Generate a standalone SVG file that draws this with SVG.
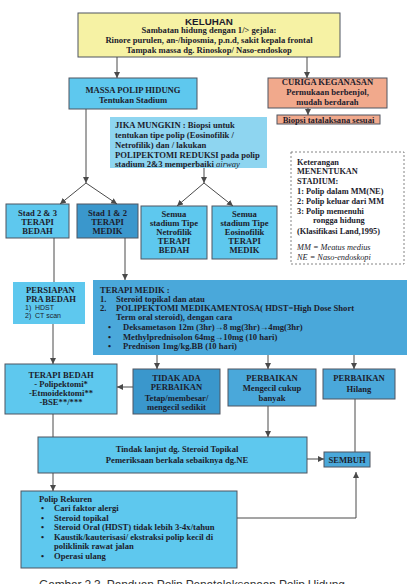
<svg xmlns="http://www.w3.org/2000/svg" width="416" height="584" viewBox="0 0 416 584">
<defs>
<marker id="ah" markerWidth="6" markerHeight="6" refX="6" refY="3" orient="auto" markerUnits="userSpaceOnUse">
<path d="M0,0 L6,3 L0,6 z" fill="#4a4a4a"/>
</marker>
</defs>
<style>
.box{stroke:#4f5560;stroke-width:1}
.yel{fill:#f6f2a4}
.sal{fill:#f1a98c}
.sky{fill:#5ec8ee}
.lt{fill:#8ed5f0}
.med{fill:#4aa8da}
.dk{fill:#3a97cc}
.t{font-family:"Liberation Serif",serif;font-weight:bold;font-size:8.6px;fill:#1c1c2c}
.k{font-size:8.3px}
.c{text-anchor:middle}
.s{font-family:"Liberation Sans",sans-serif;font-size:7px;fill:#1c1c2c}
.i{font-family:"Liberation Serif",serif;font-style:italic;font-size:8.3px;fill:#1c1c2c}
.ln{stroke:#4a4a4a;stroke-width:1;fill:none}
.ar{marker-end:url(#ah)}
</style>
<rect width="416" height="584" fill="#ffffff"/>

<g id="keluhan">
<rect class="box yel" x="78" y="13" width="262" height="44"/>
<text x="209" y="24.5" class="c" style="font-family:'Liberation Sans',sans-serif;font-weight:bold;font-size:9.8px;fill:#1c1c2c">KELUHAN</text>
<text x="209" y="33" class="t c">Sambatan hidung dengan 1/&gt; gejala:</text>
<text x="209" y="43" class="t c">Rinore purulen,  an-/hiposmia, p.n.d, sakit kepala frontal</text>
<text x="209" y="52.5" class="t c">Tampak massa dg. Rinoskop/ Naso-endoskop</text>
</g>

<g id="massa">
<rect class="box sky" x="69" y="78" width="128" height="31"/>
<text x="133" y="93" class="t c">MASSA POLIP HIDUNG</text>
<text x="133" y="103" class="t c">Tentukan Stadium</text>
</g>

<g id="curiga">
<rect class="box sal" x="268" y="78" width="119" height="30"/>
<text x="327.5" y="84.5" class="t c">CURIGA KEGANASAN</text>
<text x="327.5" y="95" class="t c">Permukaan berbenjol,</text>
<text x="327.5" y="104.5" class="t c">mudah berdarah</text>
</g>

<g id="biopsi">
<rect class="box sal" x="277" y="115" width="103" height="9"/>
<text x="328.5" y="122.5" class="t c">Biopsi tatalaksana sesuai</text>
</g>

<g id="jika">
<rect class="box lt" x="110" y="117" width="157" height="51" style="stroke:none"/>
<text x="115" y="127.5" class="t">JIKA MUNGKIN : Biopsi untuk</text>
<text x="115" y="137.5" class="t">tentukan tipe polip (Eosinofilik /</text>
<text x="115" y="147.5" class="t">Netrofilik)  dan / lakukan</text>
<text x="115" y="157.5" class="t">POLIPEKTOMI REDUKSI pada polip</text>
<text x="115" y="166.5" class="t">stadium 2&amp;3 memperbaiki <tspan style="font-style:italic;font-weight:normal">airway</tspan></text>
</g>

<g id="keterangan">
<rect x="291" y="152" width="113" height="112" fill="#ffffff" stroke="#777" stroke-width="0.9" stroke-dasharray="2,2"/>
<text x="297" y="164.5" class="t k">Keterangan</text>
<text x="297" y="174" class="t k">MENENTUKAN</text>
<text x="297" y="183.5" class="t k">STADIUM:</text>
<text x="297" y="194" class="t k">1: Polip dalam MM(NE)</text>
<text x="297" y="204" class="t k">2: Polip keluar dari MM</text>
<text x="297" y="213.5" class="t k">3: Polip memenuhi</text>
<text x="313" y="223" class="t k">rongga hidung</text>
<text x="297" y="234" class="t k">(Klasifikasi Land,1995)</text>
<text x="297" y="250" class="i">MM = Meatus medius</text>
<text x="297" y="260" class="i">NE  = Naso-endoskopi</text>
</g>

<g id="stad23">
<rect class="box sky" x="6" y="204" width="63" height="34"/>
<text x="37.5" y="216" class="t c">Stad 2 &amp; 3</text>
<text x="37.5" y="225" class="t c">TERAPI</text>
<text x="37.5" y="234" class="t c">BEDAH</text>
</g>

<g id="stad12">
<rect class="box dk" x="77" y="204" width="61" height="34"/>
<text x="107.5" y="216" class="t c">Stad 1 &amp; 2</text>
<text x="107.5" y="225" class="t c">TERAPI</text>
<text x="107.5" y="234" class="t c">MEDIK</text>
</g>

<g id="semua-netrofilik">
<rect class="box sky" x="141" y="206" width="66" height="53"/>
<text x="174" y="216.5" class="t c">Semua</text>
<text x="174" y="225.5" class="t c">stadium Tipe</text>
<text x="174" y="234.5" class="t c">Netrofilik</text>
<text x="174" y="243.5" class="t c">TERAPI</text>
<text x="174" y="252.5" class="t c">BEDAH</text>
</g>

<g id="semua-eosinofilik">
<rect class="box sky" x="212" y="206" width="65" height="53"/>
<text x="244.5" y="216.5" class="t c">Semua</text>
<text x="244.5" y="225.5" class="t c">stadium Tipe</text>
<text x="244.5" y="234.5" class="t c">Eosinofilik</text>
<text x="244.5" y="243.5" class="t c">TERAPI</text>
<text x="244.5" y="252.5" class="t c">MEDIK</text>
</g>

<g id="persiapan">
<rect class="box sky" x="13" y="282" width="72" height="42" style="stroke:none"/>
<text x="26" y="293" class="t">PERSIAPAN</text>
<text x="26" y="302" class="t">PRA BEDAH</text>
<text x="25" y="310" class="s">1)</text><text x="35" y="310" class="s">HDST</text>
<text x="25" y="317.5" class="s">2)</text><text x="35" y="317.5" class="s">CT scan</text>
</g>

<g id="terapi-medik">
<rect class="box med" x="93" y="280" width="314" height="75" style="stroke:none"/>
<text x="100" y="293" class="t">TERAPI MEDIK :</text>
<text x="100" y="302" class="t">1.</text><text x="116" y="302" class="t">Steroid topikal dan atau</text>
<text x="100" y="311" class="t">2.</text><text x="116" y="311" class="t">POLIPEKTOMI MEDIKAMENTOSA( HDST=High Dose Short</text>
<text x="116" y="320" class="t">Term oral steroid), dengan cara</text>
<text x="108" y="330" class="t">•</text><text x="123" y="330" class="t">Deksametason 12m (3hr)→8 mg(3hr)→4mg(3hr)</text>
<text x="108" y="340" class="t">•</text><text x="123" y="340" class="t">Methylprednisolon 64mg→10mg (10 hari)</text>
<text x="108" y="349" class="t">•</text><text x="123" y="349" class="t">Prednison 1mg/kg.BB (10 hari)</text>
</g>

<g id="terapi-bedah">
<rect class="box sky" x="5" y="364" width="112" height="50"/>
<text x="61" y="378" class="t c">TERAPI BEDAH</text>
<text x="61" y="387" class="t c">- Polipektomi*</text>
<text x="61" y="396" class="t c">-Etmoidektomi**</text>
<text x="61" y="405" class="t c">-BSE**/***</text>
</g>

<g id="tidak-ada">
<rect class="box dk" x="133" y="369" width="87" height="45"/>
<text x="176.5" y="381" class="t c">TIDAK ADA</text>
<text x="176.5" y="390" class="t c">PERBAIKAN</text>
<text x="176.5" y="401" class="t c">Tetap/membesar/</text>
<text x="176.5" y="410" class="t c">mengecil sedikit</text>
</g>

<g id="perbaikan-mengecil">
<rect class="box med" x="228" y="369" width="88" height="37"/>
<text x="272" y="381" class="t c">PERBAIKAN</text>
<text x="272" y="391" class="t c">Mengecil cukup</text>
<text x="272" y="401" class="t c">banyak</text>
</g>

<g id="perbaikan-hilang">
<rect class="box med" x="323" y="369" width="72" height="30"/>
<text x="359" y="381" class="t c">PERBAIKAN</text>
<text x="359" y="392" class="t c">Hilang</text>
</g>

<g id="tindak-lanjut">
<rect class="box sky" x="38" y="437" width="269" height="36"/>
<text x="177" y="452" class="t c">Tindak lanjut dg. Steroid Topikal</text>
<text x="177" y="463" class="t c">Pemeriksaan berkala sebaiknya dg.NE</text>
</g>

<g id="sembuh">
<rect class="box med" x="324" y="452" width="46" height="15"/>
<text x="347" y="463" class="t c">SEMBUH</text>
</g>

<g id="polip-rekuren">
<rect class="box sky" x="21" y="491" width="216" height="77"/>
<text x="39" y="502" class="t">Polip Rekuren</text>
<text x="41" y="511" class="t">•</text><text x="54" y="511" class="t">Cari faktor alergi</text>
<text x="41" y="521" class="t">•</text><text x="54" y="521" class="t">Steroid topikal</text>
<text x="41" y="530" class="t">•</text><text x="54" y="530" class="t">Steroid Oral (HDST) tidak lebih 3-4x/tahun</text>
<text x="41" y="540" class="t">•</text><text x="54" y="540" class="t">Kaustik/kauterisasi/ ekstraksi  polip kecil di</text>
<text x="54" y="549" class="t">poliklinik rawat jalan</text>
<text x="41" y="559" class="t">•</text><text x="54" y="559" class="t">Operasi ulang</text>
</g>

<g id="connectors">
<line class="ln ar" x1="117" y1="57" x2="117" y2="78"/>
<line class="ln ar" x1="307" y1="57" x2="307" y2="78"/>
<line class="ln ar" x1="308" y1="108" x2="308" y2="115"/>
<line class="ln ar" x1="86" y1="109" x2="86" y2="183"/>
<line class="ln ar" x1="86" y1="183" x2="60" y2="204"/>
<line class="ln ar" x1="86" y1="183" x2="117" y2="204"/>
<line class="ln ar" x1="204" y1="168" x2="204" y2="183"/>
<line class="ln ar" x1="204" y1="183" x2="177" y2="206"/>
<line class="ln ar" x1="204" y1="183" x2="233" y2="206"/>
<line class="ln" x1="54" y1="238" x2="54" y2="282"/>
<line class="ln ar" x1="125" y1="238" x2="125" y2="280"/>
<line class="ln ar" x1="53" y1="324" x2="53" y2="364"/>
<line class="ln ar" x1="157" y1="355" x2="157" y2="369"/>
<line class="ln ar" x1="268" y1="355" x2="268" y2="369"/>
<line class="ln ar" x1="354" y1="355" x2="354" y2="369"/>
<line class="ln ar" x1="133" y1="387" x2="117" y2="387"/>
<line class="ln" x1="53" y1="414" x2="53" y2="437"/>
<line class="ln ar" x1="268" y1="406" x2="268" y2="437"/>
<line class="ln" x1="355" y1="399" x2="355" y2="452"/>
<line class="ln ar" x1="307" y1="459" x2="324" y2="459"/>
<line class="ln ar" x1="53" y1="473" x2="53" y2="491"/>
<polyline class="ln ar" points="237,518 356,518 356,472"/>
</g>

<text x="39" y="588.5" textLength="306" lengthAdjust="spacing" style="font-family:'Liberation Sans',sans-serif;font-size:12px;fill:#333">Gambar 2.3. Panduan Polip Penatalaksanaan Polip Hidung</text>
</svg>
